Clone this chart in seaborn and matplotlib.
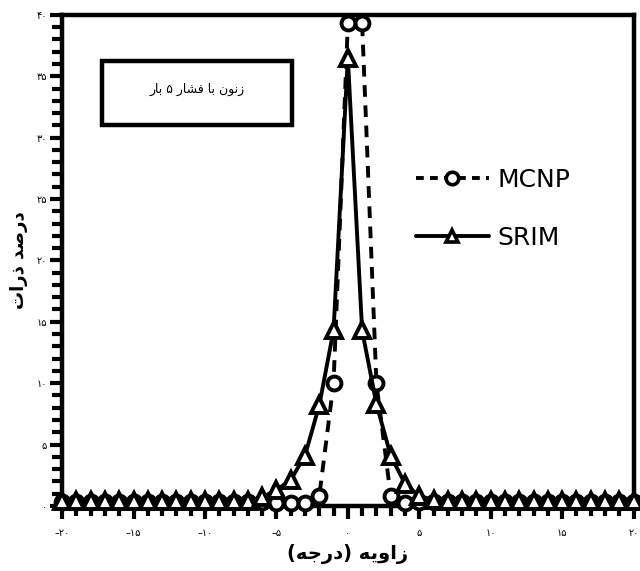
import numpy as np
import matplotlib
matplotlib.use("Agg")
import matplotlib.pyplot as plt
import seaborn as sns
from matplotlib.ticker import MultipleLocator, FuncFormatter
from matplotlib.patches import Rectangle
from matplotlib.lines import Line2D

# data
angles = list(range(-20, 21))
mcnp = [0.3] * 15 + [0.2, 0.2, 0.2, 0.8, 10, 39.3, 39.3, 10, 0.8, 0.2] + [0.3] * 16
srim = [0.4] * 14 + [0.7, 1.3, 2.1, 4.1, 8.2, 14.3, 36.5, 14.3, 8.3, 4.1, 1.8, 0.8, 0.5] + [0.4] * 14

title_box = "زنون با فشار ۵ بار"
y_title = "درصد ذرات"
x_title = "زاویه (درجه)"

# simple arabic/persian shaping (matplotlib has no bidi/shaping)
FORMS = {
    'ا': ('\uFE8D', '\uFE8E', None, None),
    'ب': ('\uFE8F', '\uFE90', '\uFE91', '\uFE92'),
    'ت': ('\uFE95', '\uFE96', '\uFE97', '\uFE98'),
    'ج': ('\uFE9D', '\uFE9E', '\uFE9F', '\uFEA0'),
    'د': ('\uFEA9', '\uFEAA', None, None),
    'ذ': ('\uFEAB', '\uFEAC', None, None),
    'ر': ('\uFEAD', '\uFEAE', None, None),
    'ز': ('\uFEAF', '\uFEB0', None, None),
    'ش': ('\uFEB5', '\uFEB6', '\uFEB7', '\uFEB8'),
    'ص': ('\uFEB9', '\uFEBA', '\uFEBB', '\uFEBC'),
    'ف': ('\uFED1', '\uFED2', '\uFED3', '\uFED4'),
    'ن': ('\uFEE5', '\uFEE6', '\uFEE7', '\uFEE8'),
    'ه': ('\uFEE9', '\uFEEA', '\uFEEB', '\uFEEC'),
    'و': ('\uFEED', '\uFEEE', None, None),
    'ی': ('\uFBFC', '\uFBFD', '\uFBFE', '\uFBFF'),
}
MIRROR = {'(': ')', ')': '('}


def shape(text):
    out = []
    for i, ch in enumerate(text):
        if ch not in FORMS:
            out.append(ch)
            continue
        iso, fin, ini, med = FORMS[ch]
        prev = text[i - 1] if i > 0 else ''
        nxt = text[i + 1] if i + 1 < len(text) else ''
        jp = prev in FORMS and FORMS[prev][2] is not None
        jn = ini is not None and nxt in FORMS
        if jp and jn:
            out.append(med)
        elif jp:
            out.append(fin)
        elif jn:
            out.append(ini)
        else:
            out.append(iso)
    return ''.join(MIRROR.get(c, c) for c in reversed(out))


def fa_digits(v, pos=None):
    s = "%d" % round(v)
    s = s.replace('-', '\u2013')
    return ''.join(chr(0x06F0 + int(c)) if c.isdigit() else c for c in s)


sns.set_style("ticks")
plt.rcParams['font.family'] = ['DejaVu Sans']
plt.rcParams['text.color'] = 'black'
plt.rcParams['axes.labelcolor'] = 'black'
plt.rcParams['xtick.color'] = 'black'
plt.rcParams['ytick.color'] = 'black'

fig = plt.figure(figsize=(6.4, 5.71), dpi=100)
ax = fig.add_axes([0.097, 0.114, 0.893, 0.86])

lw = 2.8
sns.lineplot(x=angles, y=mcnp, ax=ax, color='black', linestyle=(0, (3, 2.2)), linewidth=lw,
             marker='o', markersize=10, markerfacecolor='white', markeredgecolor='black',
             markeredgewidth=2.8, clip_on=False, zorder=3)
sns.lineplot(x=angles, y=srim, ax=ax, color='black', linestyle='-', linewidth=lw,
             marker='^', markersize=11, markerfacecolor='white', markeredgecolor='black',
             markeredgewidth=2.8, clip_on=False, zorder=4)

ax.set_xlim(-20, 20)
ax.set_ylim(0, 40)

for sp in ax.spines.values():
    sp.set_visible(True)
    sp.set_linewidth(3.2)
    sp.set_color('black')

ax.xaxis.set_major_locator(MultipleLocator(5))
ax.xaxis.set_minor_locator(MultipleLocator(1))
ax.yaxis.set_major_locator(MultipleLocator(5))
ax.yaxis.set_minor_locator(MultipleLocator(1))
ax.xaxis.set_major_formatter(FuncFormatter(fa_digits))
ax.yaxis.set_major_formatter(FuncFormatter(fa_digits))
ax.tick_params(axis='both', which='major', direction='out', length=9, width=3,
               labelsize=7, pad=2)
ax.tick_params(axis='both', which='minor', direction='out', length=7, width=3)
ax.tick_params(axis='x', which='major', pad=7)

ax.set_xlabel(shape(x_title), fontsize=14, fontweight='bold', labelpad=4)
ax.set_ylabel(shape(y_title), fontsize=13, fontweight='bold', labelpad=6)

# annotation box
ax.add_patch(Rectangle((0.07, 0.775), 0.332, 0.13, transform=ax.transAxes,
                       fill=False, edgecolor='black', linewidth=3.2, zorder=5))
ax.text(0.236, 0.848, shape(title_box), transform=ax.transAxes, ha='center', va='center',
        fontsize=9, zorder=6)

handles = [
    Line2D([], [], color='black', linestyle=(0, (2, 1.6)), linewidth=lw, marker='o',
           markersize=9, markerfacecolor='white', markeredgecolor='black', markeredgewidth=2.6),
    Line2D([], [], color='black', linestyle='-', linewidth=lw, marker='^',
           markersize=9, markerfacecolor='white', markeredgecolor='black', markeredgewidth=2.6),
]
leg = ax.legend(handles, ['MCNP', 'SRIM'], loc='upper left', bbox_to_anchor=(0.58, 0.734),
                frameon=False, handlelength=2.9, handletextpad=0.35, labelspacing=1.35,
                prop={'family': ['DejaVu Sans'], 'size': 18})

fig.savefig("out.png", dpi=100)
